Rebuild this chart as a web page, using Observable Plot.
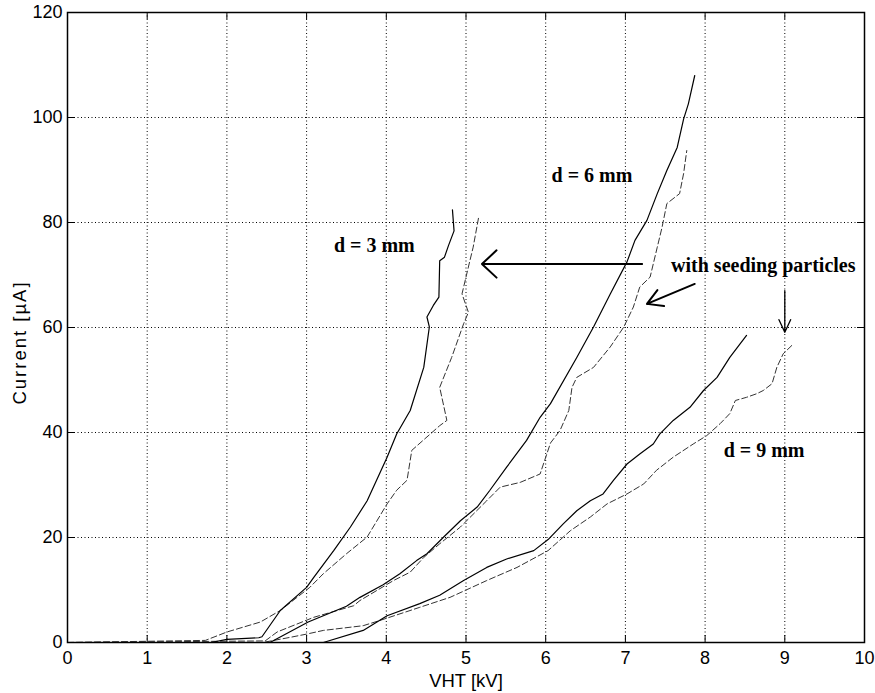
<!DOCTYPE html>
<html><head><meta charset="utf-8">
<script src="https://cdn.jsdelivr.net/npm/d3@7"></script>
<script src="https://cdn.jsdelivr.net/npm/@observablehq/plot@0.6"></script>
<style>html,body{margin:0;padding:0;background:#fff} .ylab text{letter-spacing:2px}</style>
</head><body><div id="chart"></div>
<script>
// ---- data ----
const xTicks = [0,1,2,3,4,5,6,7,8,9,10];
const yTicks = [0,20,40,60,80,100,120];
const xLabel = "VHT [kV]";
const yLabel = "Current [\u00b5A]";

// d = 3 mm
const d3Solid = [[0,0],[1.8,0],[2.0,0.6],[2.4,0.9],[2.44,1.1],[2.67,6.1],[3.0,10.5],[3.09,12.4],[3.34,17.5],[3.55,22.0],[3.76,27.0],[4.01,35.3],[4.13,39.7],[4.30,44.2],[4.47,52.4],[4.54,60.1],[4.51,62.0],[4.59,64.2],[4.66,65.8],[4.67,72.7],[4.73,73.4],[4.78,75.6],[4.85,78.4],[4.83,82.4]];
const d3Dashed = [[0,0],[1.73,0.4],[2.0,2.0],[2.42,3.9],[2.67,6.1],[3.04,10.5],[3.21,13.1],[3.50,16.9],[3.76,20.1],[4.01,26.4],[4.13,29.0],[4.26,30.9],[4.32,36.6],[4.67,41.3],[4.76,42.3],[4.67,48.6],[4.82,54.3],[4.97,60.7],[5.03,62.9],[4.95,66.4],[5.05,72.8],[5.09,75.3],[5.16,81.1]];
// d = 6 mm
const d6Solid = [[0,0],[2.54,0],[3.02,3.9],[3.5,6.9],[3.67,8.6],[3.96,11.0],[4.17,13.1],[4.38,15.6],[4.51,16.9],[4.72,20.1],[4.93,23.2],[5.14,25.8],[5.30,29.0],[5.51,33.4],[5.76,38.5],[5.93,42.9],[6.06,45.5],[6.39,54.3],[6.60,60.1],[6.81,66.4],[7.02,72.5],[7.12,76.6],[7.27,80.4],[7.40,85.5],[7.52,89.9],[7.65,94.3],[7.73,99.7],[7.79,102.6],[7.87,108.0]];
const d6Dashed = [[0,0],[2.48,0.3],[2.63,2.0],[3.09,4.8],[3.59,7.0],[3.67,8.0],[4.09,11.8],[4.30,13.4],[4.47,16.2],[4.67,18.8],[4.93,22.0],[5.26,27.0],[5.43,29.6],[5.68,30.5],[5.93,32.1],[6.06,38.0],[6.18,40.4],[6.29,44.2],[6.33,48.6],[6.39,50.5],[6.60,52.4],[6.81,56.3],[6.98,60.1],[7.10,63.9],[7.18,67.7],[7.31,69.6],[7.40,75.3],[7.46,79.1],[7.52,83.6],[7.68,85.5],[7.73,89.3],[7.77,93.7]];
// d = 9 mm
const d9Solid = [[0,0],[3.21,0],[3.71,2.3],[4.01,5.1],[4.42,7.4],[4.67,9.0],[4.97,11.8],[5.26,14.3],[5.51,15.9],[5.85,17.5],[6.03,19.6],[6.22,22.6],[6.39,25.1],[6.56,27.0],[6.72,28.3],[6.85,30.9],[7.02,34.0],[7.18,35.9],[7.35,37.8],[7.43,39.7],[7.60,42.3],[7.81,44.8],[7.98,48.0],[8.15,50.5],[8.31,54.3],[8.52,58.5]];
const d9Dashed = [[0,0],[2.45,0],[2.8,1.0],[3.0,1.6],[3.21,2.3],[3.71,3.2],[3.92,4.2],[4.42,6.7],[4.80,8.6],[5.26,11.8],[5.64,14.3],[6.03,17.5],[6.31,21.3],[6.56,23.9],[6.77,26.4],[7.02,28.3],[7.23,30.2],[7.39,32.8],[7.60,35.3],[7.85,37.8],[8.02,39.4],[8.19,41.7],[8.31,43.6],[8.38,46.1],[8.52,46.7],[8.65,47.4],[8.73,48.0],[8.84,49.3],[8.90,52.4],[8.98,55.0],[9.11,56.9]];

// annotations
const annotLabels = ["d = 3 mm", "d = 6 mm", "with seeding particles", "d = 9 mm"];
const annotX = [3.85, 6.58, 8.73, 8.74];
const annotY = [75.6, 89.0, 71.8, 36.6];
const arrowX1 = [7.21, 7.87, 9.0];
const arrowY1 = [72.1, 68.3, 67.0];
const arrowX2 = [5.20, 7.27, 9.0];
const arrowY2 = [72.1, 64.5, 59.1];

// ---- layout ----
const W = 875, H = 693, mL = 67, mR = 11, mT = 12, mB = 51;
const fw = W - mL - mR, fh = H - mT - mB, tk = 7;
const sans = "Liberation Sans, Arial, Helvetica, sans-serif";
const serif = "Liberation Serif, Times New Roman, serif";

const annots = annotLabels.map((t, i) => ({t, x: annotX[i], y: annotY[i]}));
const arrows = arrowX1.map((x1, i) => ({x1, y1: arrowY1[i], x2: arrowX2[i], y2: arrowY2[i]}));
const px = d => d[0], py = d => d[1];
const solid = {x: px, y: py, stroke: "#000", strokeWidth: 1.2, curve: "linear"};
const dashed = {x: px, y: py, stroke: "#333", strokeWidth: 1, strokeDasharray: "6,3", curve: "linear"};
const inner = xTicks.slice(1, -1), innerY = yTicks.slice(1, -1);

const chart = Plot.plot({
  width: W, height: H,
  marginLeft: mL, marginRight: mR, marginTop: mT, marginBottom: mB,
  style: {fontFamily: sans, fontSize: "18px", background: "#fff", color: "#000"},
  x: {domain: [0, 10], label: null},
  y: {domain: [0, 120], label: null},
  marks: [
    Plot.gridX(inner, {stroke: "#000", strokeOpacity: 1, strokeWidth: 1, strokeDasharray: "1,2.5"}),
    Plot.gridY(innerY, {stroke: "#000", strokeOpacity: 1, strokeWidth: 1, strokeDasharray: "1,2.5"}),
    // inward ticks on all four sides
    Plot.tickX(xTicks, {x: d => d, insetTop: fh - tk, stroke: "#000"}),
    Plot.tickX(xTicks, {x: d => d, insetBottom: fh - tk, stroke: "#000"}),
    Plot.tickY(yTicks, {y: d => d, insetRight: fw - tk, stroke: "#000"}),
    Plot.tickY(yTicks, {y: d => d, insetLeft: fw - tk, stroke: "#000"}),
    Plot.axisX(xTicks, {anchor: "bottom", tickSize: 0, tickPadding: 9, fontSize: 18, label: null}),
    Plot.axisY(yTicks, {anchor: "left", tickSize: 0, tickPadding: 5, fontSize: 18, label: null}),
    Plot.line(d3Dashed, dashed),
    Plot.line(d6Dashed, dashed),
    Plot.line(d9Dashed, dashed),
    Plot.line(d3Solid, solid),
    Plot.line(d6Solid, solid),
    Plot.line(d9Solid, solid),
    Plot.frame({stroke: "#000", strokeWidth: 1.5}),
    Plot.text(annots, {x: "x", y: "y", text: "t", fontFamily: serif, fontWeight: "bold", fontSize: 20, fill: "#000"}),
    Plot.arrow([arrows[0]], {x1: "x1", y1: "y1", x2: "x2", y2: "y2", stroke: "#000", strokeWidth: 2, headLength: 15, headAngle: 86}),
    Plot.arrow([arrows[1]], {x1: "x1", y1: "y1", x2: "x2", y2: "y2", stroke: "#000", strokeWidth: 2, headLength: 13, headAngle: 60}),
    Plot.arrow([arrows[2]], {x1: "x1", y1: "y1", x2: "x2", y2: "y2", stroke: "#000", strokeWidth: 1.3, headLength: 17, headAngle: 50}),
    Plot.text([xLabel], {text: d => d, frameAnchor: "bottom", textAnchor: "middle", dy: 39, lineAnchor: "middle", fontSize: 18.5}),
    Plot.text([yLabel], {text: d => d, frameAnchor: "left", textAnchor: "middle", dx: -47, dy: 15, rotate: -90, lineAnchor: "middle", fontSize: 18.5, className: "ylab"})
  ]
});
document.getElementById("chart").appendChild(chart);
</script></body></html>
